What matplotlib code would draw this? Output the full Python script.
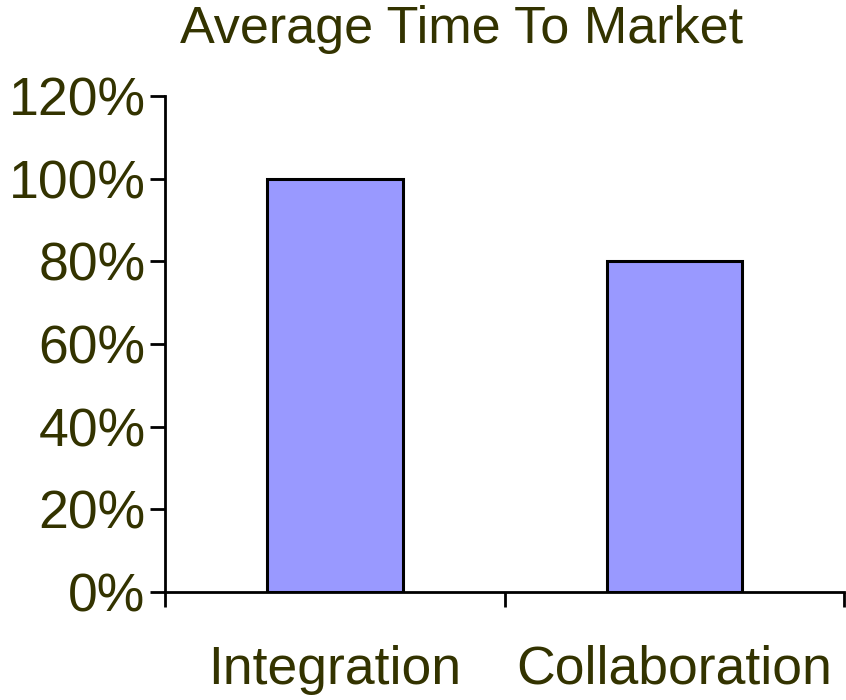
import numpy as np
import matplotlib.pyplot as plt
from matplotlib.ticker import PercentFormatter

categories = ["Integration", "Collaboration"]
values = [100, 80]
yticks = [0, 20, 40, 60, 80, 100, 120]

text_color = "#333300"
bar_color = "#9999FF"

plt.rcParams["font.family"] = ["Liberation Sans", "DejaVu Sans"]

fig = plt.figure(figsize=(8.46, 7.0), dpi=100)
ax = fig.add_axes([0.195, 0.154, 0.803, 0.709])

x = np.arange(len(categories))
ax.bar(x, values, width=0.4, color=bar_color, edgecolor="black", linewidth=2.2, zorder=2)

ax.set_xlim(-0.5, len(categories) - 0.5)
ax.set_ylim(0, 120)
ax.set_yticks(yticks)
ax.yaxis.set_major_formatter(PercentFormatter(decimals=0))

# category labels sit at bar centres, tick marks at category boundaries
ax.set_xticks(x)
ax.set_xticklabels(categories)
ax.set_xticks(np.arange(len(categories) + 1) - 0.5, minor=True)
ax.tick_params(axis="x", which="major", length=0, pad=38, labelsize=38.5, labelcolor=text_color)
ax.tick_params(axis="x", which="minor", length=11, width=2, direction="out")
ax.tick_params(axis="y", length=11, width=2, direction="out", pad=3, labelsize=38.5, labelcolor=text_color)

for side in ["top", "right"]:
    ax.spines[side].set_visible(False)
for side in ["left", "bottom"]:
    ax.spines[side].set_linewidth(2)

fig.text(0.545, 0.958, "Average Time To Market", ha="center", va="center", fontsize=37.5, color=text_color)

fig.savefig("out.png", dpi=100)
